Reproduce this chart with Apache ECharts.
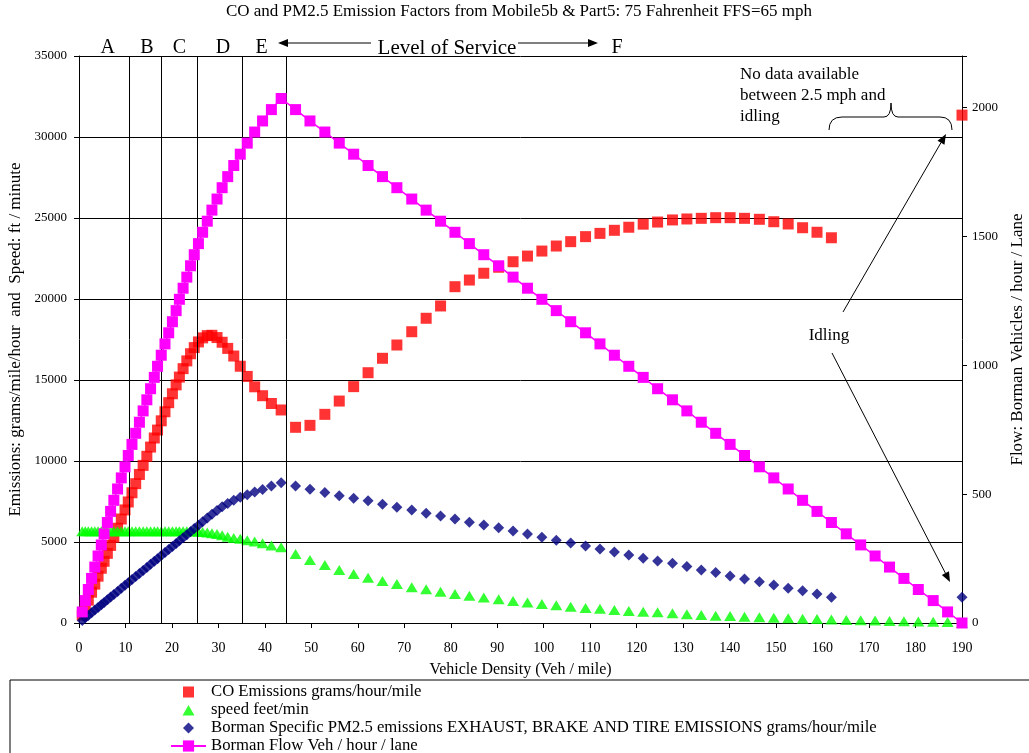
<!DOCTYPE html>
<html>
<head>
<meta charset="utf-8">
<script src="https://cdn.jsdelivr.net/npm/echarts@6/dist/echarts.min.js"></script>
<style>
  html, body { margin: 0; padding: 0; background: #ffffff; }
  #chart { width: 1029px; height: 753px; }
</style>
</head>
<body>
<div id="chart"></div>
<script>
// Vehicle density (veh / mile) shared by every series
const density = [
  0.7, 1.35, 2.0, 2.7, 3.4, 4.1, 4.8, 5.4, 6.1, 6.8, 7.5, 8.3, 9.1, 9.9, 10.6, 11.4,
  12.2, 13.0, 13.8, 14.6, 15.4, 16.2, 16.9, 17.7, 18.5, 19.3, 20.1, 20.9, 21.6, 22.4,
  23.2, 24.0, 24.8, 25.7, 26.6, 27.6, 28.6, 29.7, 30.8, 32.0, 33.3, 34.7, 36.2, 37.8,
  39.5, 41.4, 43.5,
  46.6, 49.7, 52.9, 56.0, 59.1, 62.2, 65.3, 68.4, 71.6, 74.7, 77.8, 80.9, 84.0, 87.1,
  90.3, 93.4, 96.5, 99.6, 102.7, 105.8, 109.0, 112.1, 115.2, 118.3, 121.4, 124.5, 127.7,
  130.8, 133.9, 137.0, 140.1, 143.2, 146.4, 149.5, 152.6, 155.7, 158.8, 161.9, 165.1,
  168.2, 171.3, 174.4, 177.5, 180.6, 183.8, 186.9, 190.0
];

// CO emissions, grams/hour/mile (no data between 2.5 mph and idling)
const coEmissions = [
  490, 950, 1410, 1900, 2400, 2890, 3380, 3810, 4300, 4790, 5290, 5850, 6420, 6980, 7470,
  8040, 8600, 9170, 9730, 10290, 10860, 11420, 11910, 12480, 13040, 13600, 14150, 14700,
  15180, 15700, 16180, 16620, 17000, 17350, 17600, 17740, 17760, 17620, 17330, 16950,
  16480, 15850, 15220, 14580, 14030, 13550, 13150,
  12080, 12200, 12880, 13700, 14590, 15450, 16340, 17160, 17980, 18810, 19570, 20760,
  21170, 21590, 21960, 22300, 22650, 22960, 23270, 23540, 23850, 24050, 24240, 24430,
  24620, 24750, 24880, 24940, 24980, 25020, 25020, 24980, 24920, 24770, 24630, 24400,
  24120, 23780,
  null, null, null, null, null, null, null, null,
  31350
];

// Speed, feet/min
const speedFtMin = [
  5660, 5660, 5660, 5660, 5660, 5660, 5660, 5660, 5660, 5660, 5660, 5660, 5660, 5660,
  5660, 5660, 5660, 5660, 5660, 5660, 5660, 5660, 5660, 5660, 5660, 5660, 5660, 5660,
  5660, 5660, 5660, 5660, 5660, 5640, 5610, 5580, 5540, 5490, 5420, 5330, 5240, 5200,
  5110, 5030, 4930, 4780, 4680,
  4260, 3890, 3580, 3270, 3020, 2800, 2590, 2410, 2200, 2080, 1930, 1790, 1680, 1580,
  1470, 1360, 1270, 1180, 1100, 1010, 930, 880, 800, 740, 700, 660, 600, 540, 500, 450,
  430, 390, 350, 330, 290, 270, 250, 220, 185, 165, 150, 130, 110, 95, 75, 55, 0
];

// Borman specific PM2.5 (exhaust, brake and tire), grams/hour/mile
const pm25 = [
  160, 320, 470, 630, 800, 960, 1130, 1270, 1430, 1600, 1760, 1950, 2140, 2330, 2490,
  2680, 2870, 3060, 3240, 3430, 3620, 3810, 3970, 4160, 4350, 4540, 4720, 4910, 5080,
  5260, 5450, 5640, 5830, 6040, 6250, 6480, 6720, 6950, 7170, 7380, 7570, 7760, 7920,
  8080, 8240, 8450, 8660,
  8460, 8250, 8050, 7860, 7700, 7550, 7330, 7140, 6980, 6770, 6610, 6420, 6220, 6050,
  5880, 5680, 5490, 5290, 5110, 4940, 4750, 4570, 4380, 4200, 3990, 3830, 3690, 3480,
  3270, 3110, 2900, 2720, 2550, 2350, 2140, 1990, 1790, 1590,
  null, null, null, null, null, null, null, null,
  1590
];

// Borman flow, veh / hour / lane (right axis)
const flowVeh = [
  43, 87, 130, 173, 217, 260, 303, 346, 390, 433, 476, 520, 563, 606, 650, 693, 736, 779,
  823, 866, 909, 953, 996, 1039, 1083, 1126, 1169, 1212, 1256, 1299, 1342, 1386, 1429,
  1472, 1516, 1559, 1602, 1645, 1689, 1732, 1775, 1819, 1862, 1905, 1948, 1992, 2035,
  1992, 1948, 1905, 1862, 1819, 1775, 1732, 1689, 1645, 1602, 1559, 1516, 1472, 1429,
  1386, 1342, 1299, 1256, 1212, 1169, 1126, 1083, 1039, 996, 953, 909, 866, 823, 779,
  736, 693, 650, 606, 563, 520, 476, 433, 390, 346, 303, 260, 217, 173, 130, 87, 43, 0
];

// Level of service boundaries (density) and their letters
const losBounds = [10.8, 17.8, 25.4, 35.1, 44.5];
const losLetters = ['A', 'B', 'C', 'D', 'E', 'F'];

const seriesNames = [
  'CO Emissions grams/hour/mile',
  'speed feet/min',
  'Borman Specific PM2.5 emissions EXHAUST, BRAKE AND TIRE EMISSIONS grams/hour/mile',
  'Borman Flow Veh / hour / lane'
];

const SERIF = '"Liberation Serif", "Times New Roman", serif';

function pairs(values) {
  const out = [];
  density.forEach((x, i) => { if (values[i] != null) out.push([x, values[i]]); });
  return out;
}

const chart = echarts.init(document.getElementById('chart'), null, { renderer: 'canvas' });

const option = {
  animation: false,
  backgroundColor: '#ffffff',
  textStyle: { fontFamily: SERIF, color: '#000' },
  title: {
    text: 'CO and PM2.5 Emission Factors from Mobile5b & Part5: 75 Fahrenheit FFS=65 mph',
    left: 519,
    textAlign: 'center',
    top: 3,
    padding: 0,
    textStyle: { fontFamily: SERIF, fontSize: 17, fontWeight: 'normal', color: '#000' }
  },
  grid: { left: 79, right: 67, top: 56, bottom: 130, outerBoundsMode: 'none' },
  legend: {
    orient: 'vertical',
    left: 165,
    top: 678,
    height: 110,
    itemWidth: 35,
    itemHeight: 14,
    itemGap: 0,
    selectedMode: false,
    textStyle: { fontFamily: SERIF, fontSize: 16.7, color: '#000', lineHeight: 18 },
    data: [
      { name: seriesNames[0], icon: 'path://M0,0M14,14M1.5,1.5H12.5V12.5H1.5Z' },
      { name: seriesNames[1], icon: 'path://M0,0M14,14M7,2L13,12.5L1,12.5Z' },
      { name: seriesNames[2], icon: 'path://M0,0M14,14M7,1.5L12.5,7L7,12.5L1.5,7Z' },
      { name: seriesNames[3] }
    ]
  },
  xAxis: {
    type: 'value',
    min: 0,
    max: 190,
    interval: 10,
    name: 'Vehicle Density (Veh / mile)',
    nameLocation: 'middle',
    nameGap: 39,
    nameTextStyle: { fontFamily: SERIF, fontSize: 16, color: '#000' },
    axisLine: { onZero: false, lineStyle: { color: '#000', width: 1 } },
    axisTick: { show: true, inside: false, length: 5, lineStyle: { color: '#000' } },
    axisLabel: { fontFamily: SERIF, fontSize: 14, color: '#000', margin: 18 },
    splitLine: { show: false }
  },
  yAxis: [
    {
      type: 'value',
      min: 0,
      max: 35000,
      interval: 5000,
      name: 'Emissions: grams/mile/hour  and  Speed: ft / minute',
      nameLocation: 'middle',
      nameRotate: 90,
      nameGap: 51,
      nameTextStyle: { fontFamily: SERIF, fontSize: 17, color: '#000' },
      axisLine: { show: true, onZero: false, lineStyle: { color: '#000', width: 1 } },
      axisTick: { show: true, inside: false, length: 5, lineStyle: { color: '#000' } },
      axisLabel: { fontFamily: SERIF, fontSize: 13, color: '#000', margin: 12, formatter: v => String(v) },
      splitLine: { show: true, lineStyle: { color: '#000', width: 1 } }
    },
    {
      type: 'value',
      min: 0,
      max: 2200,
      interval: 500,
      position: 'right',
      name: 'Flow: Borman Vehicles / hour / Lane',
      nameLocation: 'middle',
      nameRotate: 90,
      nameGap: 42,
      nameTextStyle: { fontFamily: SERIF, fontSize: 17, color: '#000' },
      axisLine: { show: true, onZero: false, lineStyle: { color: '#000', width: 1 } },
      axisTick: { show: true, inside: false, length: 5, lineStyle: { color: '#000' } },
      axisLabel: {
        fontFamily: SERIF, fontSize: 13, color: '#000', margin: 10,
        formatter: v => (v % 500 === 0 ? String(v) : '')
      },
      splitLine: { show: false }
    }
  ],
  series: [
    {
      name: seriesNames[0],
      type: 'scatter',
      data: pairs(coEmissions),
      symbol: 'rect',
      symbolSize: 11,
      itemStyle: { color: '#ff0000' },
      z: 2,
      markLine: {
        silent: true,
        symbol: ['none', 'none'],
        label: { show: false },
        lineStyle: { color: '#000', width: 1, type: 'solid' },
        data: losBounds.map(v => ({ xAxis: v }))
      }
    },
    {
      name: seriesNames[1],
      type: 'scatter',
      data: pairs(speedFtMin),
      symbol: 'triangle',
      symbolSize: [12, 10],
      itemStyle: { color: '#00ff00' },
      z: 3
    },
    {
      name: seriesNames[2],
      type: 'scatter',
      data: pairs(pm25),
      symbol: 'diamond',
      symbolSize: 11,
      itemStyle: { color: '#000080' },
      z: 4
    },
    {
      name: seriesNames[3],
      type: 'line',
      yAxisIndex: 1,
      data: pairs(flowVeh),
      symbol: 'rect',
      symbolSize: 11,
      showAllSymbol: true,
      lineStyle: { color: '#ff00ff', width: 1.5 },
      itemStyle: { color: '#ff00ff' },
      z: 5
    }
  ]
};

chart.setOption(option);

// Annotation drawing helpers
function arrow(x1, y1, x2, y2) {
  const ang = Math.atan2(y2 - y1, x2 - x1);
  const len = 10, half = 4;
  const bx = x2 - len * Math.cos(ang), by = y2 - len * Math.sin(ang);
  const px = -Math.sin(ang) * half, py = Math.cos(ang) * half;
  return [
    { type: 'line', silent: true, shape: { x1: x1, y1: y1, x2: bx, y2: by }, style: { stroke: '#000', lineWidth: 1 } },
    { type: 'polygon', silent: true, shape: { points: [[x2, y2], [bx + px, by + py], [bx - px, by - py]] }, style: { fill: '#000' } }
  ];
}

function label(text, x, y, size, align) {
  return {
    type: 'text', silent: true, x: x, y: y,
    style: { text: text, fontFamily: SERIF, fontSize: size, fill: '#000', align: align || 'center', verticalAlign: 'middle' }
  };
}

function curve(x1, y1, cx, cy, x2, y2) {
  return {
    type: 'bezierCurve', silent: true,
    shape: { x1: x1, y1: y1, x2: x2, y2: y2, cpx1: cx, cpy1: cy },
    style: { stroke: '#000', fill: null, lineWidth: 1 }
  };
}

function segment(x1, y1, x2, y2) {
  return { type: 'line', silent: true, shape: { x1: x1, y1: y1, x2: x2, y2: y2 }, style: { stroke: '#000', lineWidth: 1 } };
}

const toX = v => chart.convertToPixel({ xAxisIndex: 0 }, v);

// Letters sit centred between the level-of-service boundaries
const letterAt = [6.2, 14.6, 21.6, 31.0, 39.3, 115.8];
const graphics = [];
losLetters.forEach((t, i) => graphics.push(label(t, toX(letterAt[i]), 48, 20)));
graphics.push(label('Level of Service', 447, 48, 21));
graphics.push(...arrow(371, 43, 278, 43));
graphics.push(...arrow(518, 43, 598, 43));

// Idling note, brace and pointers
graphics.push(label('No data available', 740, 75, 17, 'left'));
graphics.push(label('between 2.5 mph and', 740, 96, 17, 'left'));
graphics.push(label('idling', 740, 117, 17, 'left'));
graphics.push(curve(829, 130, 829, 117, 842, 117));
graphics.push(segment(842, 117, 884, 117));
graphics.push(curve(884, 117, 891, 117, 891, 103));
graphics.push(curve(891, 103, 891, 117, 898, 117));
graphics.push(segment(898, 117, 940, 117));
graphics.push(curve(940, 117, 952, 117, 952, 130));
graphics.push(label('Idling', 829, 336, 17));
graphics.push(...arrow(843, 312, 946, 134));
graphics.push(...arrow(832, 353, 950, 582));

// Legend frame
graphics.push({
  type: 'rect', silent: true,
  shape: { x: 10, y: 680, width: 1030, height: 90 },
  style: { stroke: '#000', fill: null, lineWidth: 1 }
});

chart.setOption({ graphic: graphics });
</script>
</body>
</html>
